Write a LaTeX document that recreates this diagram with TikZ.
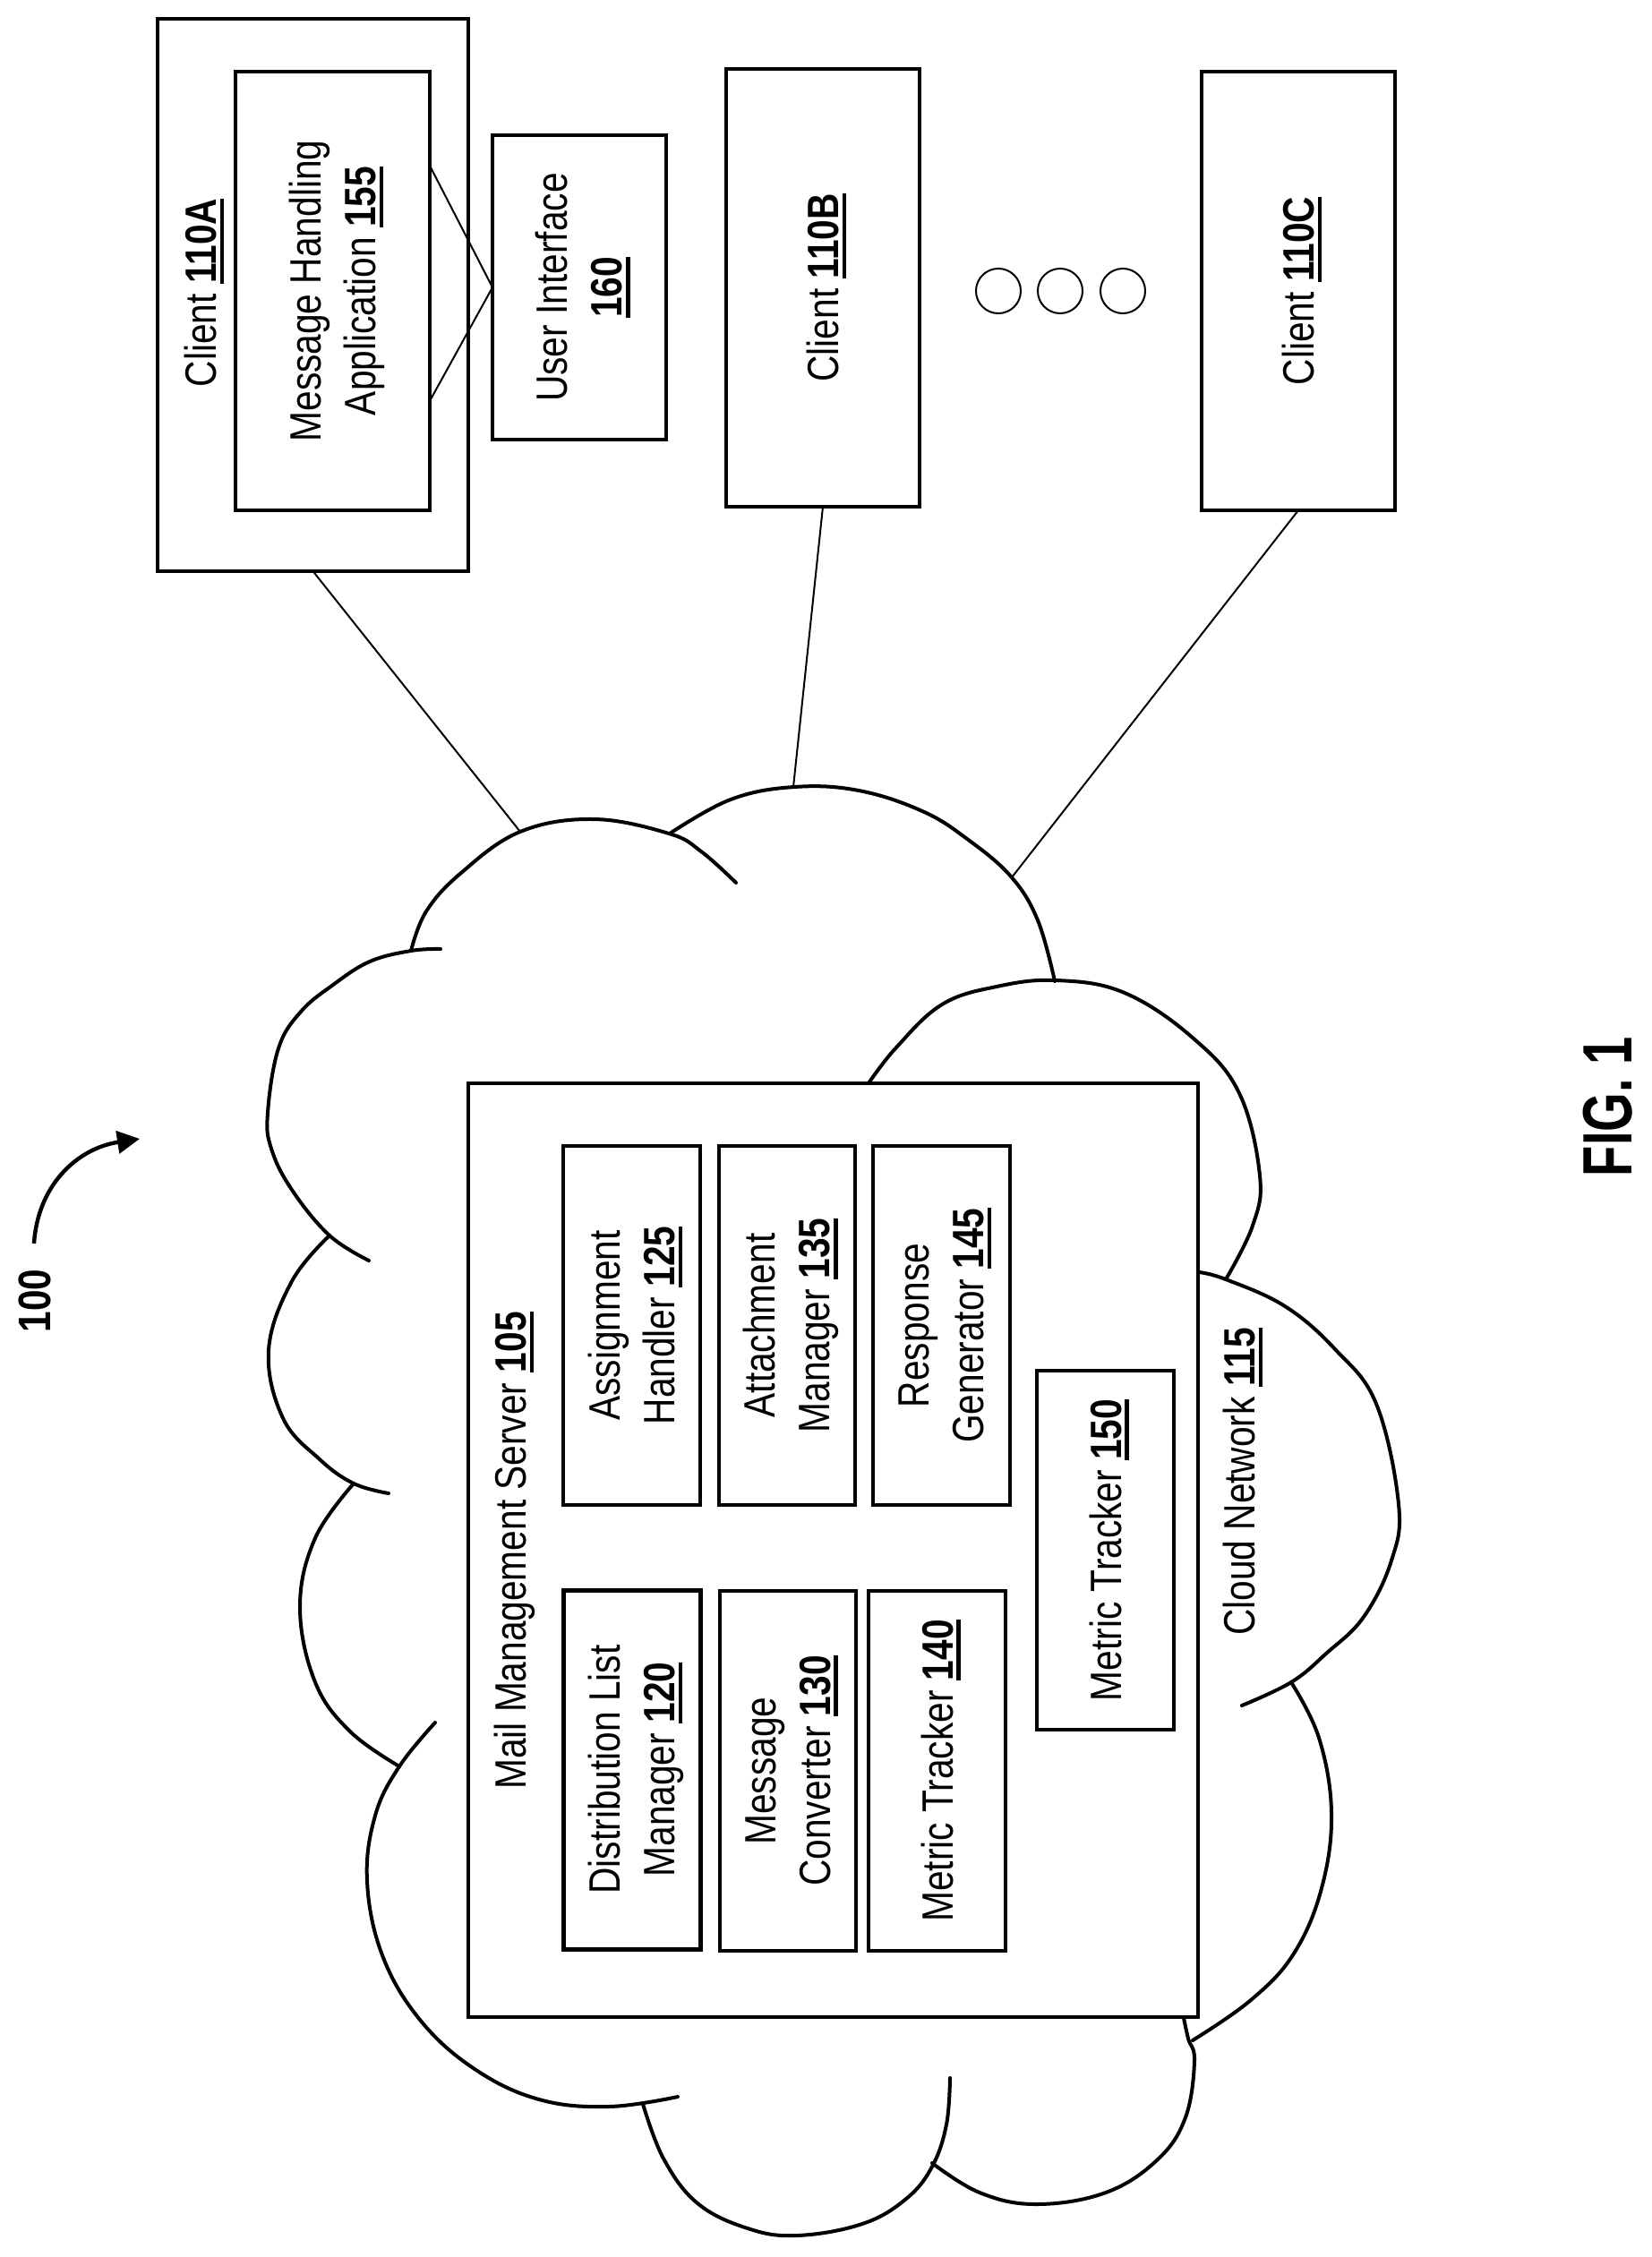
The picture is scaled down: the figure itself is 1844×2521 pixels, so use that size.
\documentclass[tikz,border=0pt]{standalone}
\usepackage{fontspec}
\setmainfont{Liberation Sans}[FakeStretch=0.83]
\newfontfamily\figfont{Liberation Sans}[FakeStretch=0.72]
\usetikzlibrary{arrows.meta}
\newcommand{\ulnum}[1]{\leavevmode\setbox0=\hbox{\textbf{#1}}\rlap{\smash{\rule[-4.3pt]{\wd0}{2.3pt}}}\box0\relax}
\tikzset{
  x=0.5pt,y=-0.5pt,
  box/.style={draw=black,line width=2pt,fill=white,inner sep=0pt,outer sep=0pt,rotate=90,align=center,text=black},
  lbl/.style={inner sep=0pt,outer sep=0pt,rotate=90,align=center,text=black},
  cloudline/.style={line width=2pt,black,line cap=round,smooth,tension=0.65},
  wire/.style={line width=1pt,black},
  dotc/.style={draw=black,line width=1pt,circle,minimum size=25pt,inner sep=0pt,outer sep=0pt},
  every node/.append style={font=\fontsize{24.5}{30.5}\selectfont}
}
\begin{document}
\begin{tikzpicture}
\useasboundingbox (0,0) rectangle (1844,2521);
% cloud lobes
\draw[cloudline] plot[smooth,tension=0.65] coordinates {(486,1924) (446,1973) (419,2028) (410,2101) (427,2184) (469,2256) (530,2311) (602,2345) (680,2353) (757,2342)};
\draw[cloudline] plot[smooth,tension=0.65] coordinates {(718,2350) (741,2411) (779,2461) (835,2489) (890,2497) (963,2484) (1012,2456) (1041,2420) (1057,2373) (1061,2321)};
\draw[cloudline] plot[smooth,tension=0.65] coordinates {(1041,2416) (1094,2449) (1157,2462) (1235,2449) (1293,2412) (1324,2365) (1334,2302) (1327,2277) (1322,2254)};
\draw[cloudline] plot[smooth,tension=0.65] coordinates {(1332,2279) (1397,2234) (1445,2182) (1476,2109) (1487,2025) (1473,1941) (1442,1879)};
\draw[cloudline] plot[smooth,tension=0.65] coordinates {(1387,1905) (1442,1879) (1481,1847) (1523,1806) (1554,1743) (1562,1680) (1537,1568) (1491,1507) (1435,1459) (1369,1429) (1339,1421)};
\draw[cloudline] plot[smooth,tension=0.65] coordinates {(1369,1429) (1399,1369) (1407,1313) (1384,1221) (1333,1160) (1256,1109) (1180,1095) (1113,1102) (1052,1122) (1001,1170) (970,1210)};
\draw[cloudline] plot[smooth,tension=0.65] coordinates {(1178,1096) (1159,1028) (1129,979) (1080,937) (1030,906) (959,883) (887,879) (816,893) (748,931)};
\draw[cloudline] plot[smooth,tension=0.65] coordinates {(822,986) (783,951) (747,931) (663,915) (581,929) (515,975) (476,1018) (459,1062)};
\draw[cloudline] plot[smooth,tension=0.65] coordinates {(492,1060) (459,1062) (413,1074) (372,1100) (336,1130) (311,1171) (299,1243) (303,1283) (326,1329) (368,1380) (412,1408)};
\draw[cloudline] plot[smooth,tension=0.65] coordinates {(368,1380) (326,1431) (300,1508) (316,1584) (357,1630) (395,1657) (434,1668)};
\draw[cloudline] plot[smooth,tension=0.65] coordinates {(395,1657) (352,1718) (335,1795) (352,1879) (391,1934) (446,1973)};
\coordinate (cloudA) at (581,929);
\coordinate (cloudB) at (886,879);
\coordinate (cloudC) at (1130,980);
% clients
\node[box,minimum width=308.5pt,minimum height=173.5pt] (c110A) at (349.5,329.5) {};
\node[lbl] (c110Atext) at (224,327) {Client \ulnum{110A}};
\node[box,minimum width=245pt,minimum height=108.5pt] (app) at (371.5,325) {Message Handling\\\smash{Application} \ulnum{155}};
\node[box,minimum width=170pt,minimum height=97pt] (ui) at (647,321) {User Interface\\\ulnum{160}};
\node[box,minimum width=244.5pt,minimum height=108pt] (c110B) at (919,321.5) {Client \ulnum{110B}};
\node[box,minimum width=245pt,minimum height=108pt] (c110C) at (1450,325) {Client \ulnum{110C}};
\node[dotc] (d1) at (1115,325) {};
\node[dotc] (d2) at (1184,325) {};
\node[dotc] (d3) at (1254,325) {};
\coordinate (appU) at (481,187);
\coordinate (appL) at (481,446);
\draw[wire] (appU) -- (ui.north) -- (appL);
\draw[wire] (c110A.west) -- (cloudA);
\draw[wire] (c110B.west) -- (cloudB);
\draw[wire] (c110C.west) -- (cloudC);
% server
\node[box,minimum width=521.5pt,minimum height=407.5pt] (srv) at (930.5,1731.5) {};
\node[lbl] (srvtext) at (575,1732) {Mail Management Server \ulnum{105}};
\node[box,minimum width=200.5pt,minimum height=76.5pt] (m125) at (705.5,1480.5) {Assignment\\Handler \ulnum{125}};
\node[box,minimum width=200.5pt,minimum height=76pt] (m135) at (879,1480.5) {Attachment\\\smash{Manager} \ulnum{135}};
\node[box,minimum width=200.5pt,minimum height=76.5pt] (m145) at (1051.5,1480.5) {Response\\Generator \ulnum{145}};
\node[box,minimum width=200.5pt,minimum height=76.5pt] (m150) at (1234.5,1731.5) {Metric Tracker \ulnum{150}};
\node[box,line width=2.5pt,minimum width=200.5pt,minimum height=76.5pt] (m120) at (705.5,1976.5) {Distribution List\\\smash{Manager} \ulnum{120}};
\node[box,minimum width=201pt,minimum height=76pt] (m130) at (880,1978) {Message\\Converter \ulnum{130}};
\node[box,minimum width=201pt,minimum height=76.5pt] (m140) at (1046.5,1978) {Metric Tracker \ulnum{140}};
\node[lbl] (cloudtext) at (1384,1655) {Cloud Network \ulnum{115}};
% reference
\node[lbl,font=\fontsize{25.5}{30}\selectfont\bfseries] (ref) at (38.5,1453) {100};
\coordinate (arrowS) at (38,1389);
\coordinate (arrowE) at (156,1272);
\draw[line width=2.2pt,black,-{Triangle[length=12.5pt,width=12.5pt]}] (arrowS) .. controls (42,1325) and (85,1283) .. (arrowE);
\node[lbl,font=\fontsize{39}{45}\selectfont\figfont\bfseries] (fig) at (1796,1236) {FIG. 1};
\end{tikzpicture}
\end{document}
